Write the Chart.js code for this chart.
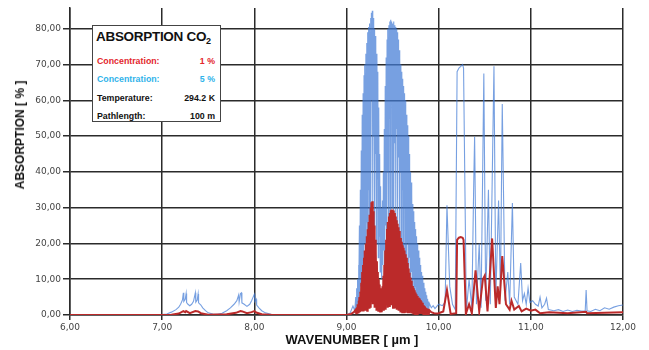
<!DOCTYPE html>
<html>
<head>
<meta charset="utf-8">
<script src="https://cdn.jsdelivr.net/npm/chart.js@4/dist/chart.umd.min.js"></script>
<style>
  html,body{margin:0;padding:0;background:#fff;}
  #wrap{position:relative;width:649px;height:350px;overflow:hidden;}
  canvas{position:absolute;left:0;top:0;}
  .ytitle{position:absolute;left:20px;top:135px;transform:translate(-50%,-50%) rotate(-90deg);white-space:nowrap;
    font:bold 12px "Liberation Sans",Arial,sans-serif;color:#111;}
  .xtitle{position:absolute;left:352px;top:339px;transform:translate(-50%,-50%);white-space:nowrap;
    font:bold 13px "Liberation Sans",Arial,sans-serif;color:#111;}
  .legend{position:absolute;left:92px;top:25px;width:127px;height:95px;background:#fff;border:1.5px solid #444;
    font-family:"Liberation Sans",Arial,sans-serif;}
  .legend .ttl{position:absolute;left:3px;top:3px;white-space:nowrap;font:bold 13.5px "Liberation Sans",Arial,sans-serif;color:#111;letter-spacing:-0.3px;}
  .legend .ttl sub{font-size:9px;vertical-align:-3px;}
  .legend .row{position:absolute;left:4px;right:5px;white-space:nowrap;font:bold 8.8px "Liberation Sans",Arial,sans-serif;}
  .legend .row span.r{position:absolute;right:0;top:0;}
</style>
</head>
<body>
<div id="wrap">
  <canvas id="c" width="649" height="350"></canvas>
  <div class="ytitle">ABSORPTION [ % ]</div>
  <div class="xtitle">WAVENUMBER [ µm ]</div>
  <div class="legend">
    <div class="ttl">ABSORPTION CO<sub>2</sub></div>
    <div class="row" style="top:30px;color:#e3262d;">Concentration:<span class="r">1 %</span></div>
    <div class="row" style="top:48px;color:#2fb3ea;">Concentration:<span class="r">5 %</span></div>
    <div class="row" style="top:67px;color:#111;">Temperature:<span class="r">294.2 K</span></div>
    <div class="row" style="top:85px;color:#111;">Pathlength:<span class="r">100 m</span></div>
  </div>
</div>
<script>
// X axis ticks (wavenumber, µm) and Y axis ticks (absorption, %)
const xTicks = [6, 7, 8, 9, 10, 11, 12];
const yTicks = [0, 10, 20, 30, 40, 50, 60, 70, 80];

// Series: CO2 concentration 5 % -> [wavenumber, absorption %]
const co2_5pct = [
 [6.00,0],[6.50,0],[7.00,0.1],[7.05,0.3],[7.10,0.8],[7.15,1.5],[7.18,2.2],[7.20,3.0],[7.22,4.2],[7.23,6.2],
 [7.235,3.8],[7.25,4.4],[7.26,6.0],[7.265,3.5],[7.28,3.0],[7.30,2.6],[7.32,3.0],[7.34,3.8],[7.36,6.2],[7.365,3.6],
 [7.38,4.2],[7.39,5.9],[7.395,3.4],[7.42,2.8],[7.44,2.0],[7.47,1.2],[7.50,0.6],[7.55,0.3],[7.60,0.2],[7.65,0.5],
 [7.70,1.2],[7.74,2.0],[7.78,3.0],[7.81,4.0],[7.83,5.6],[7.835,3.6],[7.85,6.0],[7.86,6.2],[7.865,3.4],[7.89,3.0],
 [7.92,2.4],[7.95,3.0],[7.97,4.0],[7.99,5.2],[8.00,5.8],[8.005,3.8],[8.02,4.4],[8.025,2.8],[8.05,2.0],[8.08,1.2],
 [8.12,0.6],[8.18,0.2],[8.30,0],[9.00,0],[9.04,0.6],[9.07,2.5],[9.09,1.2],
 [9.10,5.0],[9.105,2.0],[9.11,7.5],[9.115,3.0],[9.12,10],[9.125,2.5],[9.13,14],[9.135,4],[9.14,25],[9.145,6],
 [9.15,35],[9.155,8],[9.16,46],[9.165,5],[9.17,56],[9.175,12],[9.18,62],[9.185,9],[9.19,67],[9.195,20],
 [9.20,70],[9.205,10],[9.21,73],[9.215,26],[9.22,76],[9.225,14],[9.23,79],[9.235,35],[9.24,80.5],[9.245,18],
 [9.25,81.5],[9.255,42],[9.26,83],[9.265,22],[9.27,84.5],[9.275,60],[9.28,85],[9.285,30],[9.29,83],[9.295,50],
 [9.30,80],[9.305,24],[9.31,78],[9.315,45],[9.32,76],[9.325,20],[9.33,73],[9.335,38],[9.34,68],[9.345,16],
 [9.35,58],[9.355,22],[9.36,45],[9.365,12],[9.37,36],[9.375,15],[9.38,30],[9.385,10],[9.39,32],[9.395,14],
 [9.40,40],[9.405,18],[9.41,52],[9.415,12],[9.42,64],[9.425,25],[9.43,72],[9.435,15],[9.44,77],[9.445,40],
 [9.45,80],[9.455,20],[9.46,81],[9.465,55],[9.47,82],[9.475,28],[9.48,82.5],[9.485,62],[9.49,82],[9.495,30],
 [9.50,81.5],[9.505,58],[9.51,82],[9.515,26],[9.52,81],[9.525,48],[9.53,80.5],[9.535,22],[9.54,80],[9.545,52],
 [9.55,79],[9.555,25],[9.56,77],[9.565,44],[9.57,74],[9.575,18],[9.58,72],[9.585,40],[9.59,70],[9.595,15],
 [9.60,68],[9.605,35],[9.61,66],[9.615,12],[9.62,64],[9.625,30],[9.63,62],[9.635,10],[9.64,60],[9.645,25],
 [9.65,56],[9.655,8],[9.66,53],[9.665,20],[9.67,50],[9.675,7],[9.68,45],[9.685,16],[9.69,40],[9.695,6],
 [9.70,37],[9.705,12],[9.71,34],[9.715,5],[9.72,31],[9.725,10],[9.73,29],[9.735,4],[9.74,26],[9.745,8],
 [9.75,24],[9.755,3.5],[9.76,22],[9.765,6],[9.77,20],[9.775,3],[9.78,18],[9.785,5],[9.79,16],[9.795,2.5],
 [9.80,14],[9.805,4],[9.81,12],[9.815,2.2],[9.82,11],[9.825,3.5],[9.83,10],[9.835,2],[9.84,9],[9.845,3],
 [9.85,7.5],[9.855,1.8],[9.86,6.5],[9.865,2.5],[9.87,5.5],[9.875,1.6],[9.88,4.5],[9.885,2.2],[9.89,3.8],[9.895,1.5],
 [9.90,3.2],[9.92,2.0],[9.94,2.6],[9.96,1.8],[9.98,2.4],[10.00,3.0],[10.04,2.6],[10.07,3.5],[10.09,30.7],[10.12,8],
 [10.15,3],[10.18,1.5],[10.20,68],[10.22,69],[10.24,69.5],[10.26,70],[10.27,69],[10.30,1],[10.33,10],[10.36,2],
 [10.38,36],[10.39,49.8],[10.41,3],[10.44,20],[10.46,2],[10.49,67.5],[10.51,4],[10.54,35],[10.56,3],[10.60,69.5],
 [10.62,5],[10.65,32],[10.67,6],[10.69,59],[10.72,4],[10.75,12],[10.77,3],[10.80,31.3],[10.82,5],[10.86,3],
 [10.89,14.5],[10.91,4],[10.93,6],[10.95,3],[10.97,7.5],[10.99,3.5],[11.02,4],[11.05,3],[11.08,2.5],[11.10,5],
 [11.12,2],[11.15,3],[11.17,4.7],[11.19,1.5],[11.25,1.2],[11.30,1.5],[11.35,1.0],[11.40,1.4],[11.45,1.0],[11.50,1.3],
 [11.55,1.1],[11.59,1.2],[11.60,7],[11.61,1.2],[11.65,1.0],[11.70,1.6],[11.75,1.2],[11.80,2.0],[11.85,1.6],[11.90,2.2],
 [11.95,2.6],[12.00,2.8]
];

// Series: CO2 concentration 1 % -> [wavenumber, absorption %]
const co2_1pct = [
 [6.00,0],[7.00,0],[7.10,0.1],[7.18,0.4],[7.23,1.1],[7.25,0.8],[7.26,1.1],[7.30,0.5],[7.36,1.1],[7.39,1.0],
 [7.42,0.5],[7.50,0.1],[7.70,0.2],[7.80,0.6],[7.85,1.1],[7.87,1.0],[7.92,0.5],[7.97,0.8],[8.00,1.1],[8.02,0.7],
 [8.08,0.2],[8.20,0],[9.00,0],[9.05,0.3],[9.08,0.8],
 [9.10,1.5],[9.105,0.5],[9.11,2.0],[9.115,0.6],[9.12,3.0],[9.125,0.8],[9.13,4.0],[9.135,1.0],[9.14,5.0],[9.145,0.8],
 [9.15,6.5],[9.155,1.2],[9.16,9],[9.165,1.0],[9.17,12],[9.175,2.0],[9.18,14],[9.185,1.0],[9.19,16],[9.195,2.5],
 [9.20,18],[9.205,1.5],[9.21,20],[9.215,3],[9.22,22],[9.225,1.2],[9.23,24],[9.235,4],[9.24,26],[9.245,2],
 [9.25,28],[9.255,5],[9.26,30],[9.265,2],[9.27,31.5],[9.275,6],[9.28,31.8],[9.285,3],[9.29,29],[9.295,5],
 [9.30,25],[9.305,2],[9.31,21],[9.315,4],[9.32,18],[9.325,1.5],[9.33,15],[9.335,3],[9.34,12],[9.345,1.2],
 [9.35,10],[9.355,2.5],[9.36,8.5],[9.365,1],[9.37,7.5],[9.375,2],[9.38,7],[9.385,0.8],[9.39,8],[9.395,2],
 [9.40,11],[9.405,1.2],[9.41,14],[9.415,3],[9.42,18],[9.425,1.5],[9.43,21],[9.435,4],[9.44,24],[9.445,2],
 [9.45,26],[9.455,5],[9.46,27.5],[9.465,2.5],[9.47,28.5],[9.475,6],[9.48,29.3],[9.485,3],[9.49,29.5],[9.495,5],
 [9.50,29.5],[9.505,2],[9.51,29.2],[9.515,4.5],[9.52,28.5],[9.525,1.8],[9.53,27.5],[9.535,4],[9.54,26.5],[9.545,1.5],
 [9.55,25.5],[9.555,3.5],[9.56,24.5],[9.565,1.2],[9.57,23.5],[9.575,3],[9.58,22.5],[9.585,1],[9.59,21.5],[9.595,2.5],
 [9.60,20.5],[9.605,0.8],[9.61,19.5],[9.615,2],[9.62,18.8],[9.625,0.8],[9.63,18],[9.635,1.8],[9.64,17],[9.645,0.6],
 [9.65,16],[9.655,1.5],[9.66,14.5],[9.665,0.5],[9.67,13],[9.675,1.2],[9.68,11.8],[9.685,0.5],[9.69,10.5],[9.695,1],
 [9.70,9.6],[9.705,0.4],[9.71,8.8],[9.715,0.8],[9.72,8.1],[9.725,0.4],[9.73,7.5],[9.735,0.7],[9.74,6.9],[9.745,0.3],
 [9.75,6.3],[9.755,0.6],[9.76,5.8],[9.765,0.3],[9.77,5.3],[9.775,0.5],[9.78,4.9],[9.785,0.3],[9.79,4.6],[9.795,0.4],
 [9.80,4.2],[9.805,0.3],[9.81,3.8],[9.815,0.3],[9.82,3.4],[9.825,0.2],[9.83,3.0],[9.835,0.2],[9.84,2.7],[9.845,0.2],
 [9.85,2.4],[9.855,0.2],[9.86,2.1],[9.865,0.2],[9.87,1.9],[9.875,0.2],[9.88,1.7],[9.885,0.2],[9.89,1.5],[9.895,0.2],
 [9.90,1.3],[9.92,0.8],[9.95,0.5],[9.98,0.4],[10.00,0.5],[10.05,1.0],[10.09,7.0],[10.13,0.3],[10.19,0.5],[10.20,21.0],
 [10.22,21.6],[10.24,21.8],[10.26,21.6],[10.27,21.0],[10.295,0.3],[10.33,3],[10.36,0.5],[10.40,12.5],[10.44,1],[10.48,10],
 [10.50,11],[10.53,1],[10.58,21.4],[10.62,2],[10.64,8],[10.66,3],[10.69,16.5],[10.73,3],[10.77,1.5],[10.79,4],
 [10.82,1.5],[10.87,2.5],[10.90,1.0],[10.95,1.8],[11.00,1.2],[11.05,1.5],[11.10,0.5],[11.20,0.8],[11.40,0.5],[11.60,0.9],
 [11.61,0.5],[11.80,0.6],[12.00,0.8]
];

const toPts = arr => arr.map(p => ({x: p[0], y: p[1]}));
const fmt = v => v.toFixed(2).replace('.', ',');
const gridCol = '#2b2b2b';

new Chart(document.getElementById('c'), {
  type: 'line',
  data: {
    datasets: [
      { label: '1 %', data: toPts(co2_1pct), borderColor: '#bb2a2a', borderWidth: 2, pointRadius: 0, tension: 0, order: 0 },
      { label: '5 %', data: toPts(co2_5pct), borderColor: 'rgba(66,124,214,0.72)', borderWidth: 1.1, pointRadius: 0, tension: 0, order: 1 }
    ]
  },
  options: {
    responsive: false,
    animation: false,
    events: [],
    layout: { padding: { left: 0, right: 26, top: 8, bottom: 0 } },
    plugins: { legend: { display: false }, tooltip: { enabled: false }, title: { display: false } },
    scales: {
      x: {
        type: 'linear', min: 6, max: 12,
        afterBuildTicks: s => { s.ticks = xTicks.map(v => ({ value: v })); },
        afterFit: s => { s.height = 35; },
        grid: { color: gridCol, lineWidth: 1.5, tickLength: 5, drawTicks: true, tickColor: gridCol },
        border: { display: true, color: gridCol, width: 1.5 },
        ticks: { padding: 2, color: '#444', font: { family: 'DejaVu Sans', size: 9 }, callback: v => fmt(v), maxRotation: 0 }
      },
      y: {
        type: 'linear', min: 0, max: 85.8,
        afterBuildTicks: s => { s.ticks = yTicks.map(v => ({ value: v })); },
        afterFit: s => { s.width = 70; },
        grid: { color: gridCol, lineWidth: 1.5, tickLength: 7, drawTicks: true, tickColor: gridCol },
        border: { display: true, color: gridCol, width: 1.5 },
        ticks: { padding: 2, color: '#444', font: { family: 'DejaVu Sans', size: 9 }, callback: v => fmt(v) }
      }
    }
  }
});
</script>
</body>
</html>
